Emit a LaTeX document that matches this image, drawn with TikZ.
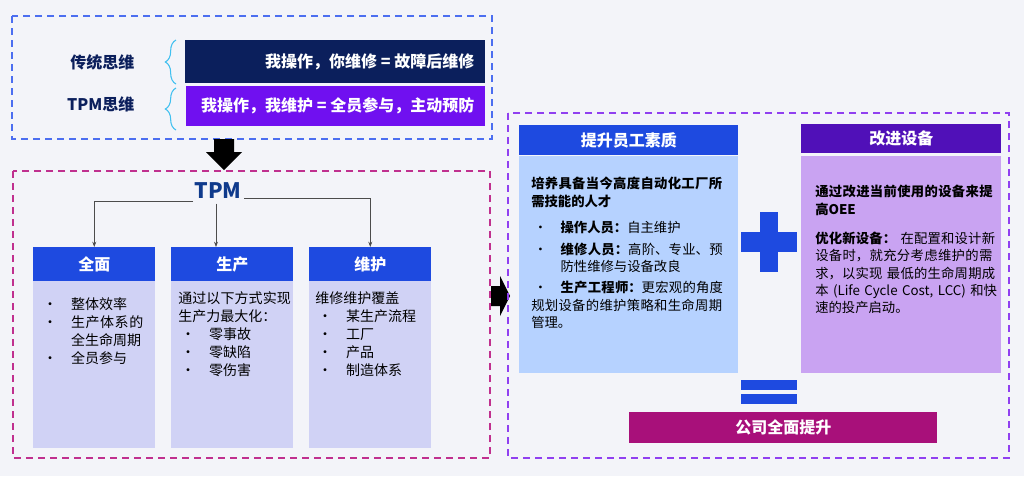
\documentclass[tikz,border=0pt]{standalone}
\usepackage{fontspec}
\setmainfont{Noto Sans CJK SC}
\XeTeXlinebreaklocale "zh"
\XeTeXlinebreakskip=0pt plus 1pt
\usetikzlibrary{decorations.pathreplacing,arrows.meta}
\definecolor{bg}{HTML}{F3F4F9}
\definecolor{dashblue}{HTML}{4C6EF0}
\definecolor{dashpink}{HTML}{C0308F}
\definecolor{dashpurp}{HTML}{9040F0}
\definecolor{navy}{HTML}{0B1F5C}
\definecolor{violet}{HTML}{7010F0}
\definecolor{hblue}{HTML}{1E4AE0}
\definecolor{lav}{HTML}{D0D2F5}
\definecolor{lblue}{HTML}{B6D2FF}
\definecolor{hpurp}{HTML}{5010B8}
\definecolor{lpurp}{HTML}{C9A3F2}
\definecolor{mag}{HTML}{A8107A}
\definecolor{tblue}{HTML}{0F3A8C}
\definecolor{brc}{HTML}{40C0F0}
\newcommand{\bll}[1]{\par\hangindent=2.2em\hangafter=1\noindent\makebox[2.2em][l]{\hspace{0.2em}•}#1}
\tikzset{
 dbox/.style={dashed,line width=1.2pt,dash pattern=on 5pt off 4pt},
 hdr/.style={fill=hblue,text=white,font=\fontsize{12}{14}\selectfont\bfseries},
 bodytxt/.style={anchor=north west,align=left,text width=#1,font=\fontsize{10.5}{13.5}\selectfont,inner sep=0pt},
 conn/.style={draw=black!70,line width=0.6pt,-{Stealth[length=4pt]}}
}
\begin{document}
\begin{tikzpicture}[x=0.75pt,y=-0.75pt]
\fill[bg] (0,0) rectangle (1024,476);
\useasboundingbox (0,0) rectangle (1024,476);
% top box
\draw[dbox,dashblue] (12,16) rectangle (492,139);
\fill[navy] (185,40) rectangle (485,83);
\node[anchor=east,text=white,font=\fontsize{12}{14}\selectfont\bfseries] (t1) at (479,62) {我操作，你维修 = 故障后维修};
\fill[violet] (186,86) rectangle (485,126);
\node[anchor=east,text=white,font=\fontsize{12}{14}\selectfont\bfseries] (t2) at (479,106) {我操作，我维护 = 全员参与，主动预防};
\node[anchor=east,text=navy,font=\fontsize{12}{14}\selectfont\bfseries] (l1) at (139,62) {传统思维};
\node[anchor=east,text=navy,font=\fontsize{12}{14}\selectfont\bfseries] (l2) at (139,104) {TPM思维};
\draw[brc,line width=0.8pt,decorate,decoration={brace,amplitude=8pt}] (176,84) -- (176,40);
\draw[brc,line width=0.8pt,decorate,decoration={brace,amplitude=8pt}] (176,130) -- (176,88);
% down arrow
\fill[black] (214,139) -- (234,139) -- (234,152) -- (242,152) -- (224,170) -- (206,152) -- (214,152) -- cycle;
% pink box
\draw[dbox,dashpink] (13,171) rectangle (490,458);
\node[text=tblue,font=\fontsize{16}{18}\selectfont\bfseries] (tpm) at (218,191) {TPM};
\foreach \i/\x/\t in {a/33/全面,b/171/生产,c/309/维护}{
 \fill[lav] (\x,281) rectangle ++(122,167);
 \node[hdr,minimum width=122*0.75pt,minimum height=34*0.75pt,anchor=north west,inner sep=0pt] (h\i) at (\x,247) {\t};
}
\draw[conn] (193,201) -| (ha.north);
\draw[conn] (tpm.south -| 216,0) -- (216,247);
\draw[conn] (244,198) -| (hc.north);
\node[bodytxt=86pt] (ba) at (40,291) {\bll{整体效率}\bll{生产体系的全生命周期}\bll{全员参与}};
\node[bodytxt=86pt] (bb) at (178,291) {通过以下方式实现生产力最大化：\bll{零事故}\bll{零缺陷}\bll{零伤害}};
\node[bodytxt=86pt] (bc) at (315,291) {维修维护覆盖\bll{某生产流程}\bll{工厂}\bll{产品}\bll{制造体系}};
% right arrow
\fill[black] (491,286) -- (500,286) -- (500,276) -- (510,296) -- (500,316) -- (500,306) -- (491,306) -- cycle;
% purple box
\draw[dbox,dashpurp] (508,113) rectangle (1009,458);
\fill[lblue] (519,156) rectangle (738,373);
\node[hdr,minimum width=219*0.75pt,minimum height=30*0.75pt,anchor=north west,inner sep=0pt] (hd) at (519,125) {提升员工素质};
\fill[lpurp] (801,156) rectangle (1001,373);
\node[hdr,fill=hpurp,minimum width=200*0.75pt,minimum height=29*0.75pt,anchor=north west,inner sep=0pt] (he) at (801,124) {改进设备};
\node[bodytxt=148pt,font=\fontsize{10}{13}\selectfont] (bd) at (531,177) {{\bfseries 培养具备当今高度自动化工厂所需技能的人才}\par\vspace{7pt}
\bll{{\bfseries 操作人员：}自主维护}\vspace{3pt}
\bll{{\bfseries 维修人员：}高阶、专业、预防性维修与设备改良}\vspace{3pt}
\bll{{\bfseries 生产工程师：}更宏观的角度规划设备的维护策略和生命周期管理。}};
\node[bodytxt=138pt,font=\fontsize{10}{13}\selectfont] (be) at (815,185) {{\bfseries 通过改进当前使用的设备来提高OEE}\par\vspace{9pt}
{\bfseries 优化新设备：}\ 在配置和设计新设备时，就充分考虑维护的需求，以实现 最低的生命周期成本 (Life Cycle Cost, LCC) 和快速的投产启动。};
% plus
\fill[hblue] (760,212) rectangle (778,272);
\fill[hblue] (741,232) rectangle (797,252);
% equals
\fill[hblue] (741,380) rectangle (797,390);
\fill[hblue] (741,394) rectangle (797,404);
\node[fill=mag,text=white,font=\fontsize{12}{14}\selectfont\bfseries,minimum width=308*0.75pt,minimum height=31*0.75pt,anchor=north west,inner sep=0pt] (co) at (629,412) {公司全面提升};
\end{tikzpicture}
\end{document}
